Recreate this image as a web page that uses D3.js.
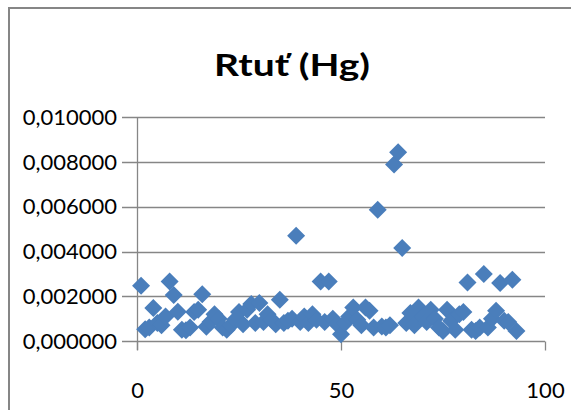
<!DOCTYPE html>
<html><head><meta charset="utf-8">
<script src="https://cdn.jsdelivr.net/npm/d3@7"></script>
<style>html,body{margin:0;padding:0;background:#fff;}svg{display:block;}</style>
</head><body>
<svg id="chart" width="571" height="410"></svg>
<script>
const title = "Rtuť (Hg)";
const xValues = [1,2,3,4,5,6,7,8,9,10,11,12,13,14,15,16,17,18,19,20,21,22,23,24,25,26,27,28,29,30,31,32,33,34,35,36,37,38,39,40,41,42,43,44,45,46,47,48,49,50,51,52,53,54,55,56,57,58,59,60,61,62,63,64,65,66,67,68,69,70,71,72,73,74,75,76,77,78,79,80,81,82,83,84,85,86,87,88,89,90,91,92,93];
const yValues = [0.00247,0.00052,0.00060,0.00147,0.00080,0.00070,0.00110,0.00266,0.00206,0.00131,0.00050,0.00048,0.00060,0.00130,0.00140,0.00209,0.00064,0.00085,0.00120,0.00100,0.00060,0.00050,0.00070,0.00095,0.00130,0.00075,0.00140,0.00165,0.00080,0.00170,0.00085,0.00120,0.00095,0.00075,0.00184,0.00080,0.00090,0.00100,0.00471,0.00085,0.00110,0.00080,0.00120,0.00095,0.00266,0.00085,0.00266,0.00100,0.00075,0.00030,0.00080,0.00110,0.00150,0.00095,0.00070,0.00150,0.00135,0.00060,0.00587,0.00065,0.00060,0.00070,0.00789,0.00844,0.00416,0.00080,0.00125,0.00070,0.00150,0.00110,0.00085,0.00140,0.00100,0.00060,0.00045,0.00140,0.00090,0.00050,0.00120,0.00130,0.00262,0.00050,0.00045,0.00060,0.00300,0.00060,0.00100,0.00135,0.00259,0.00090,0.00085,0.00274,0.00045];
const xTicks = [0,50,100];
const yTicks = [0,0.002,0.004,0.006,0.008,0.010];

const svg = d3.select("#chart");
const x = d3.scaleLinear().domain([0,100]).range([137,545]);
const y = d3.scaleLinear().domain([0,0.01]).range([341,117.3]);
const grey = "#868686";
const fmt = v => d3.format(".6f")(v).replace(".", ",");

// outer frame
svg.append("rect").attr("x",9).attr("y",8).attr("width",600).attr("height",450)
  .attr("fill","none").attr("stroke",grey).attr("stroke-width",2);

// title
svg.append("text").attr("x",292).attr("y",76).attr("text-anchor","middle")
  .attr("font-family","Lato, 'Open Sans', sans-serif").attr("font-weight","bold")
  .attr("font-size",31).attr("fill","#000")
  .attr("textLength",156).attr("lengthAdjust","spacingAndGlyphs").text(title);

// y axis (ticks double as gridlines)
const yAxis = svg.append("g").attr("transform","translate(137,0)")
  .call(d3.axisLeft(y).tickValues(yTicks).tickFormat(fmt).tickSize(0).tickPadding(20));
yAxis.select(".domain").remove();
yAxis.selectAll("text").attr("font-family","Lato, sans-serif").attr("font-size",22).attr("fill","#000");
svg.append("g").selectAll("line").data(yTicks).join("line")
  .attr("x1",122).attr("x2",545).attr("y1",d=>Math.round(y(d))+0.5).attr("y2",d=>Math.round(y(d))+0.5)
  .attr("stroke",grey).attr("stroke-width",1.3);
svg.append("line").attr("x1",137.5).attr("x2",137.5).attr("y1",y(0.01)).attr("y2",350)
  .attr("stroke",grey).attr("stroke-width",1.3);

// x axis
const xAxis = svg.append("g").attr("transform","translate(0,341.5)")
  .call(d3.axisBottom(x).tickValues(xTicks).tickFormat(d3.format("d")).tickSize(9).tickPadding(32));
xAxis.select(".domain").remove();
xAxis.selectAll("line").attr("stroke",grey).attr("stroke-width",1.3);
xAxis.selectAll("text").attr("font-family","Lato, sans-serif").attr("font-size",22).attr("fill","#000");

// points
const data = xValues.map((v,i)=>({x:v,y:yValues[i]}));
const s = 9;
svg.append("g").selectAll("path").data(data).join("path")
  .attr("d",`M0,${-s}L${s},0L0,${s}L${-s},0Z`)
  .attr("transform",d=>`translate(${x(d.x)},${y(d.y)})`)
  .attr("fill","#4a7ebb");
</script>
</body></html>
